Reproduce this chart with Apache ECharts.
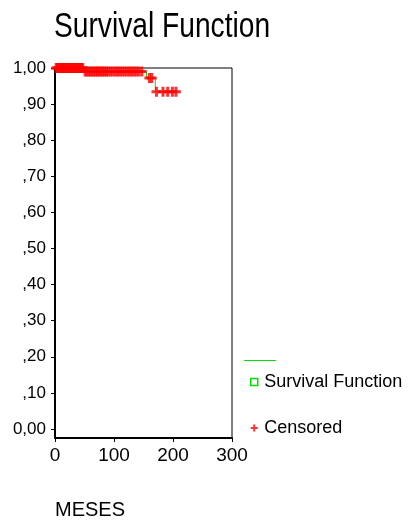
<!DOCTYPE html>
<html><head><meta charset="utf-8">
<script src="https://cdn.jsdelivr.net/npm/echarts@6/dist/echarts.min.js"></script>
<style>html,body{margin:0;padding:0;background:#fff}#c{width:409px;height:524px}</style>
</head><body><div id="c"></div>
<script>
// Survival function step: times where survival changes, and survival levels
var stepTimes = [0, 48, 155, 170, 205];
var stepSurvival = [1.0, 0.99, 0.972, 0.934, 0.934];
// Censored observation times (months)
var censoredTimes = [2, 4, 6, 8, 10, 12, 13, 15, 17, 19, 21, 23, 25, 27, 29, 31, 33, 35, 37, 39, 41, 43, 45, 47,
  51, 54, 57, 60, 63, 66, 69, 72, 75, 78, 81, 84, 87, 90, 94, 98, 102, 106, 110, 114, 118, 122, 126, 130, 134, 138, 142, 147,
  160, 164,
  172, 183, 191, 199, 205];
var yTickValues = [0, 0.1, 0.2, 0.3, 0.4, 0.5, 0.6, 0.7, 0.8, 0.9, 1.0];
var yTickLabels = ['0,00', ',10', ',20', ',30', ',40', ',50', ',60', ',70', ',80', ',90', '1,00'];

function survivalAt(t) {
  var s = stepSurvival[0];
  for (var i = 0; i < stepTimes.length; i++) { if (t >= stepTimes[i]) s = stepSurvival[i]; }
  return s;
}
var lineData = stepTimes.map(function (t, i) { return [t, stepSurvival[i]]; });
var censData = censoredTimes.map(function (t) { return [t, survivalAt(t)]; });

var FONT = '"Liberation Sans", Arial, sans-serif';
var GREEN = '#00e000';
var plus = 'path://M3.5,0H6.5V3.5H10V6.5H6.5V10H3.5V6.5H0V3.5H3.5Z';
var sq = 'path://M0,0H10V10H0Z';

var chart = echarts.init(document.getElementById('c'), null, {renderer: 'canvas'});
chart.setOption({
  animation: false,
  backgroundColor: '#fff',
  title: [
    {text: 'MESES', left: 55, top: 500, padding: 0, textStyle: {fontFamily: FONT, fontSize: 20, fontWeight: 'normal', color: '#000'}}
  ],
  grid: {left: 55, right: 177, top: 68, bottom: 86, show: true, borderColor: '#000', borderWidth: 1, backgroundColor: '#fff'},
  xAxis: {
    type: 'value', min: 0, max: 300, interval: 100,
    axisLine: {show: true, onZero: false, lineStyle: {color: '#000', width: 2}},
    axisTick: {show: true, length: 4, lineStyle: {color: '#000'}},
    axisLabel: {color: '#000', fontFamily: FONT, fontSize: 19, margin: 8},
    splitLine: {show: false}
  },
  yAxis: {
    type: 'value', min: -0.025, max: 1.0,
    axisLine: {show: true, onZero: false, lineStyle: {color: '#000', width: 2}},
    axisTick: {show: true, length: 4, lineStyle: {color: '#000'}, customValues: yTickValues},
    axisLabel: {color: '#000', fontFamily: FONT, fontSize: 17, margin: 9, customValues: yTickValues,
      formatter: function (v) { var i = yTickValues.findIndex(function (x) { return Math.abs(x - v) < 1e-6; }); return i >= 0 ? yTickLabels[i] : ''; }},
    splitLine: {show: false}
  },
  legend: {
    orient: 'vertical', left: 250, top: 373, itemGap: 28, itemWidth: 10, itemHeight: 7, padding: 0,
    textStyle: {fontFamily: FONT, fontSize: 18, color: '#000'},
    data: [
      {name: 'Survival Function', icon: sq, itemStyle: {color: '#fff', borderColor: GREEN, borderWidth: 1.5}},
      {name: 'Censored', icon: plus, itemStyle: {color: '#ff0000'}}
    ]
  },
  graphic: [
    {type: 'text', left: 54, top: 10, scaleX: 0.805, style: {text: 'Survival Function', fontFamily: FONT, fontSize: 35, fill: '#000'}},
    {type: 'line', shape: {x1: 244, y1: 360.5, x2: 276, y2: 360.5}, style: {stroke: GREEN, lineWidth: 1}}
  ],
  series: [
    {name: 'Survival Function', type: 'line', step: 'end', data: lineData, symbol: 'none',
      lineStyle: {color: GREEN, width: 1}, itemStyle: {color: GREEN}, z: 2},
    {name: 'Censored', type: 'scatter', data: censData, symbol: plus, symbolSize: 10,
      itemStyle: {color: '#ff0000'}, z: 3}
  ]
});
</script></body></html>
